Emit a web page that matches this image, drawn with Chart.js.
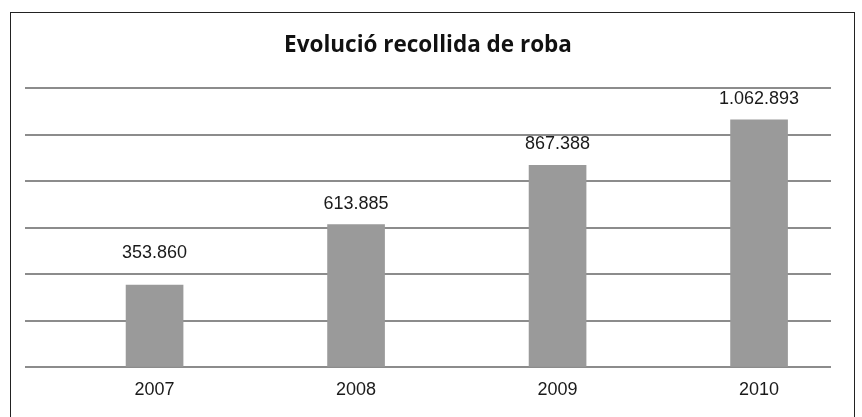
<!DOCTYPE html>
<html>
<head>
<meta charset="utf-8">
<script src="https://cdn.jsdelivr.net/npm/chart.js@4/dist/chart.umd.min.js"></script>
<style>
html,body{margin:0;padding:0;background:#fff;}
#wrap{position:relative;width:862px;height:417px;overflow:hidden;}
#frame{position:absolute;left:10px;top:12px;width:843px;height:430px;border:1.5px solid #222;pointer-events:none;}
canvas{display:block;}
</style>
</head>
<body>
<div id="wrap">
<canvas id="c" width="862" height="417"></canvas>
<div id="frame"></div>
</div>
<script>
const title = 'Evolució recollida de roba';
const years = ['2007', '2008', '2009', '2010'];
const values = [353860, 613885, 867388, 1062893];
const yTicks = [0, 200000, 400000, 600000, 800000, 1000000, 1200000];

function fmt(v){ return String(v).replace(/\B(?=(\d{3})+(?!\d))/g, '.'); }

const labelPlugin = {
  id: 'valueLabels',
  afterDatasetsDraw(chart, args, opts){
    const ctx = chart.ctx;
    const meta = chart.getDatasetMeta(0);
    const gaps = opts.gaps || [];
    ctx.save();
    ctx.font = '18px "Liberation Sans", Arial, sans-serif';
    ctx.fillStyle = '#1a1a1a';
    ctx.textAlign = 'center';
    ctx.textBaseline = 'middle';
    meta.data.forEach((bar, i) => {
      ctx.fillText(fmt(values[i]), bar.x, bar.y - (gaps[i] || 21));
    });
    ctx.restore();
  }
};

new Chart(document.getElementById('c'), {
  type: 'bar',
  data: {
    datasets: [{
      data: years.map((y, i) => ({x: i, y: values[i]})),
      backgroundColor: '#9a9a9a',
      borderWidth: 0,
      barThickness: 57
    }]
  },
  options: {
    responsive: false,
    animation: false,
    devicePixelRatio: 1,
    layout: { padding: { left: 25, right: 31, top: 0, bottom: 4 } },
    plugins: {
      legend: { display: false },
      tooltip: { enabled: false },
      valueLabels: { gaps: [32, 20, 21, 21] },
      title: {
        display: true,
        text: title,
        color: '#111',
        font: { family: '"Open Sans", sans-serif', size: 22.5, weight: 'bold' },
        padding: { top: 32, bottom: 29 }
      }
    },
    scales: {
      x: {
        type: 'linear',
        offset: false,
        min: -0.643,
        max: 3.357,
        grid: { display: false, drawTicks: false },
        border: { display: false },
        afterBuildTicks(scale){ scale.ticks = years.map((_, i) => ({value: i})); },
        ticks: {
          callback: (v) => years[v],
          autoSkip: false,
          maxRotation: 0,
          padding: 12,
          color: '#1a1a1a',
          font: { family: '"Liberation Sans", Arial, sans-serif', size: 18 }
        }
      },
      y: {
        min: 0,
        max: 1200000,
        afterBuildTicks(scale){ scale.ticks = yTicks.map(v => ({value: v})); },
        ticks: { display: false },
        grid: { color: '#8c8c8c', lineWidth: 2, drawTicks: false },
        border: { display: false }
      }
    }
  },
  plugins: [labelPlugin]
});
</script>
</body>
</html>
